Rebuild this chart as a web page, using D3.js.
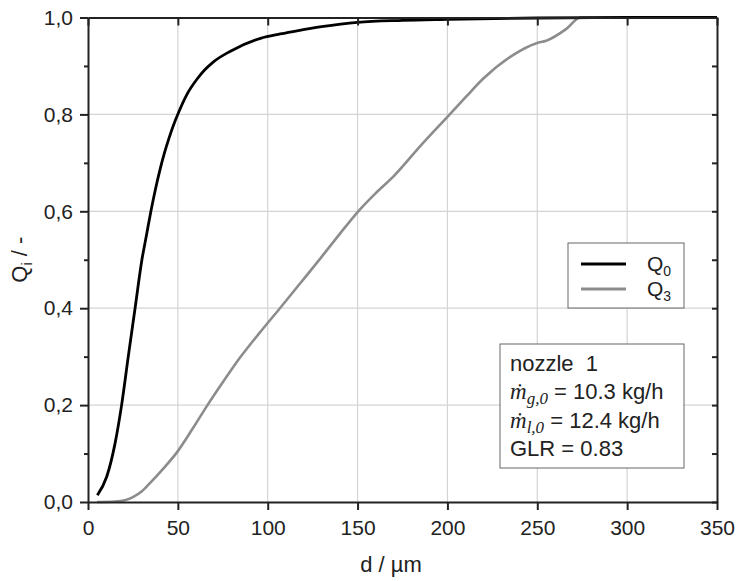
<!DOCTYPE html>
<html>
<head>
<meta charset="utf-8">
<script src="https://cdnjs.cloudflare.com/ajax/libs/d3/7.8.5/d3.min.js"></script>
<style>
  body { margin: 0; background: #fff; }
  text { font-family: "Liberation Sans", Arial, sans-serif; fill: #222; }
</style>
</head>
<body>
<script>
var w = 736, h = 581;
var margin = {left: 88, right: 19, top: 17.5, bottom: 79};

// droplet diameter d (µm) and cumulative distributions
var q0_d = [5.2, 10.4, 15, 18.7, 22.4, 26.2, 30, 32.5, 35, 37.5, 40, 42.5, 45, 47.5, 50.5, 55, 60.5, 65, 70, 79, 96, 107, 117, 130, 150, 175, 200, 250, 300, 350];
var q0_v = [0.014, 0.052, 0.12, 0.2, 0.30, 0.40, 0.50, 0.55, 0.60, 0.645, 0.685, 0.72, 0.75, 0.777, 0.805, 0.841, 0.872, 0.892, 0.909, 0.93, 0.957, 0.966, 0.973, 0.981, 0.99, 0.994, 0.996, 0.999, 1.0, 1.0];

var q3_d = [5, 15, 20, 25, 30, 35, 41.4, 49.8, 58, 66.5, 75, 84, 95, 106.8, 118, 130, 140, 150.4, 160, 170, 185, 200, 210, 220, 236.7, 249.6, 255, 266, 274, 300, 350];
var q3_v = [0, 0.001, 0.003, 0.01, 0.022, 0.041, 0.067, 0.104, 0.15, 0.2, 0.247, 0.295, 0.347, 0.40, 0.451, 0.506, 0.553, 0.60, 0.637, 0.672, 0.735, 0.795, 0.835, 0.874, 0.923, 0.947, 0.952, 0.976, 1.0, 1.0, 1.0];

var xTicks = [0, 50, 100, 150, 200, 250, 300, 350];
var yTicks = [0, 0.2, 0.4, 0.6, 0.8, 1.0];
var yMinor = [0.1, 0.3, 0.5, 0.7, 0.9];

var seriesNames = ["0", "3"];
var seriesColors = ["#000000", "#8c8c8c"];
var infoLines = ["nozzle  1", "g,0| = 10.3 kg/h", "l,0| = 12.4 kg/h", "GLR = 0.83"];

var svg = d3.select("body").append("svg")
  .attr("width", w).attr("height", h);

var x = d3.scaleLinear().domain([0, 350]).range([margin.left, w - margin.right]);
var y = d3.scaleLinear().domain([0, 1]).range([h - margin.bottom, margin.top]);

var x0 = x(0), x1 = x(350), y0 = y(0), y1 = y(1);

// grid
var grid = svg.append("g").attr("stroke", "#d4d4d4").attr("stroke-width", 1.2);
grid.selectAll(".gx").data(xTicks.slice(1, -1)).enter().append("line")
  .attr("x1", d => x(d)).attr("x2", d => x(d)).attr("y1", y0).attr("y2", y1);
grid.selectAll(".gy").data(yTicks.slice(1, -1)).enter().append("line")
  .attr("y1", d => y(d)).attr("y2", d => y(d)).attr("x1", x0).attr("x2", x1);

// curves
var line = d3.line().x(d => x(d[0])).y(d => y(d[1])).curve(d3.curveMonotoneX);
var q0 = q0_d.map((d, i) => [d, q0_v[i]]);
var q3 = q3_d.map((d, i) => [d, q3_v[i]]);
svg.append("path").datum(q3).attr("d", line).attr("fill", "none")
  .attr("stroke", seriesColors[1]).attr("stroke-width", 2.6);
svg.append("path").datum(q0).attr("d", line).attr("fill", "none")
  .attr("stroke", seriesColors[0]).attr("stroke-width", 2.8);

// axes
var axisColor = "#222";
var axBottom = svg.append("g").attr("transform", "translate(0," + y0 + ")")
  .call(d3.axisBottom(x).tickValues(xTicks).tickSize(8).tickPadding(10).tickSizeOuter(0));
var axLeft = svg.append("g").attr("transform", "translate(" + x0 + ",0)")
  .call(d3.axisLeft(y).tickValues(yTicks).tickSize(8).tickPadding(7).tickSizeOuter(0)
    .tickFormat(d => d3.format(".1f")(d).replace(".", ",")));
var axTop = svg.append("g").attr("transform", "translate(0," + y1 + ")")
  .call(d3.axisBottom(x).tickValues(xTicks).tickSize(8).tickFormat("").tickSizeOuter(0));
var axRight = svg.append("g").attr("transform", "translate(" + x1 + ",0)")
  .call(d3.axisLeft(y).tickValues(yTicks.concat(yMinor)).tickSize(5).tickFormat("").tickSizeOuter(0));
var axMinor = svg.append("g").attr("transform", "translate(" + x0 + ",0)")
  .call(d3.axisLeft(y).tickValues(yMinor).tickSize(4).tickFormat("").tickSizeOuter(0));
axMinor.select(".domain").remove();

[axBottom, axLeft, axTop, axRight, axMinor].forEach(function(a) {
  a.select(".domain").attr("stroke", axisColor).attr("stroke-width", 2);
  a.selectAll(".tick line").attr("stroke", axisColor).attr("stroke-width", 2);
  a.selectAll(".tick text").style("font-size", "21px").style("font-family", "'Liberation Sans', Arial, sans-serif").attr("fill", "#222");
});

// axis titles
svg.append("text").attr("x", 391).attr("y", 572)
  .attr("text-anchor", "middle").style("font-size", "22px").text("d / µm");
var yl = svg.append("text").attr("transform", "translate(27," + ((y0 + y1) / 2) + ") rotate(-90)")
  .attr("text-anchor", "middle").style("font-size", "22px");
yl.append("tspan").text("Q");
yl.append("tspan").attr("dy", 5).style("font-size", "14px").text("i");
yl.append("tspan").attr("dy", -5).text(" / -");

// legend
var lg = svg.append("g").attr("transform", "translate(568,243)");
lg.append("rect").attr("width", 116).attr("height", 65)
  .attr("fill", "#fff").attr("stroke", "#666").attr("stroke-width", 1);
seriesNames.forEach(function(n, i) {
  var ly = 21 + i * 25;
  lg.append("line").attr("x1", 13).attr("x2", 58).attr("y1", ly).attr("y2", ly)
    .attr("stroke", seriesColors[i]).attr("stroke-width", 2.8);
  var t = lg.append("text").attr("x", 79).attr("y", ly + 7).style("font-size", "21px");
  t.append("tspan").text("Q");
  t.append("tspan").attr("dy", 5).style("font-size", "14px").text(n);
});

// info box
var ib = svg.append("g").attr("transform", "translate(500,344)");
ib.append("rect").attr("width", 184).attr("height", 124)
  .attr("fill", "#fff").attr("stroke", "#666").attr("stroke-width", 1);
infoLines.forEach(function(s, i) {
  var t = ib.append("text").attr("x", 10).attr("y", 27 + i * 28.3)
    .style("font-size", "22px").style("white-space", "pre");
  if (s.indexOf("|") >= 0) {
    var parts = s.split("|");
    t.append("tspan").style("font-family", "'Liberation Serif', 'DejaVu Serif', serif")
      .style("font-style", "italic").style("font-size", "23px").text("ṁ");
    t.append("tspan").attr("dy", 5).style("font-family", "'Liberation Serif', 'DejaVu Serif', serif")
      .style("font-style", "italic").style("font-size", "17px").text(parts[0]);
    t.append("tspan").attr("dy", -5).text(parts[1]);
  } else {
    t.text(s);
  }
});
</script>
</body>
</html>
